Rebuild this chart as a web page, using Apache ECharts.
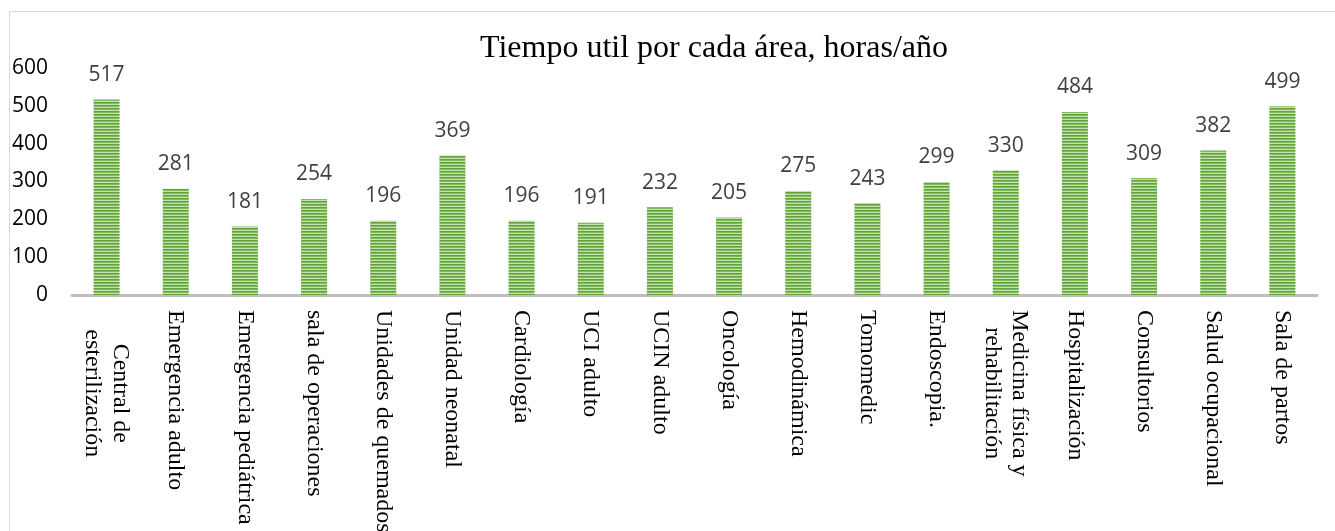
<!DOCTYPE html>
<html>
<head>
<meta charset="utf-8">
<script src="https://cdn.jsdelivr.net/npm/echarts@6/dist/echarts.min.js"></script>
<style>
html,body{margin:0;padding:0;background:#fff;}
#c{width:1335px;height:531px;}
</style>
</head>
<body>
<div id="c"></div>
<script>
const titleText = 'Tiempo util por cada área, horas/año';
const categories = ['Central de\nesterilización','Emergencia adulto','Emergencia pediátrica','sala de operaciones','Unidades de quemados','Unidad neonatal','Cardiología','UCI adulto','UCIN adulto','Oncología','Hemodinámica','Tomomedic','Endoscopia.','Medicina física y\nrehabilitación','Hospitalización','Consultorios','Salud ocupacional','Sala de partos'];
const values = [517,281,181,254,196,369,196,191,232,205,275,243,299,330,484,309,382,499];
const yTicks = [0,100,200,300,400,500,600];

const labelFont = '24px "Liberation Serif"';
const mc = document.createElement('canvas').getContext('2d');
mc.font = labelFont;
function lineWidthMax(s){return Math.max(...s.split('\n').map(l=>mc.measureText(l).width));}

// striped pattern
const pc = document.createElement('canvas');
pc.width = 4; pc.height = 3;
const pctx = pc.getContext('2d');
const rows = ['#62a33a','#7fbb5c','#c3e0ae'];
rows.forEach((c,i)=>{pctx.fillStyle=c;pctx.fillRect(0,i,4,1);});

const chart = echarts.init(document.getElementById('c'), null, {renderer:'canvas'});
chart.setOption({
  animation:false,
  title:{text:titleText,left:475,top:28,textStyle:{fontFamily:'Liberation Serif',fontSize:32,fontWeight:'normal',color:'#000'}},
  grid:{left:72,right:18,top:68,bottom:236,containLabel:false,outerBoundsMode:'none'},
  xAxis:{type:'category',data:categories,
    axisLine:{lineStyle:{color:'#bfbfbf',width:3}},
    axisTick:{show:false},
    axisLabel:{rotate:-90,margin:15,interval:0,fontFamily:'Liberation Serif',fontSize:24,color:'#000',lineHeight:27.6,
      formatter:function(v){
        if(v.indexOf('\n')<0) return v;
        return v.split('\n').map(l=>'{m|'+l+'}').join('\n');
      },
      rich:{m:{fontFamily:'Liberation Serif',fontSize:24,color:'#000',lineHeight:27.6,align:'center',width:lineWidthMax('Medicina física y')}}
    }
  },
  yAxis:{type:'value',min:0,max:600,interval:100,
    axisLine:{show:false},axisTick:{show:false},splitLine:{show:false},
    axisLabel:{margin:24,fontFamily:'Open Sans',fontSize:21,color:'#000',
      formatter:function(v){return yTicks.indexOf(v)>=0?String(v):'';}}
  },
  series:[{type:'bar',data:values,barWidth:26,
    itemStyle:{color:{image:pc,repeat:'repeat'}},
    label:{show:true,position:'top',distance:14,fontFamily:'Open Sans',fontSize:21,color:'#404040'}
  }],
  graphic:[
    {type:'line',shape:{x1:9.5,y1:11.5,x2:1335,y2:11.5},style:{stroke:'#d9d9d9',lineWidth:1}},
    {type:'line',shape:{x1:9.5,y1:11.5,x2:9.5,y2:531},style:{stroke:'#d9d9d9',lineWidth:1}}
  ]
});
</script>
</body>
</html>
